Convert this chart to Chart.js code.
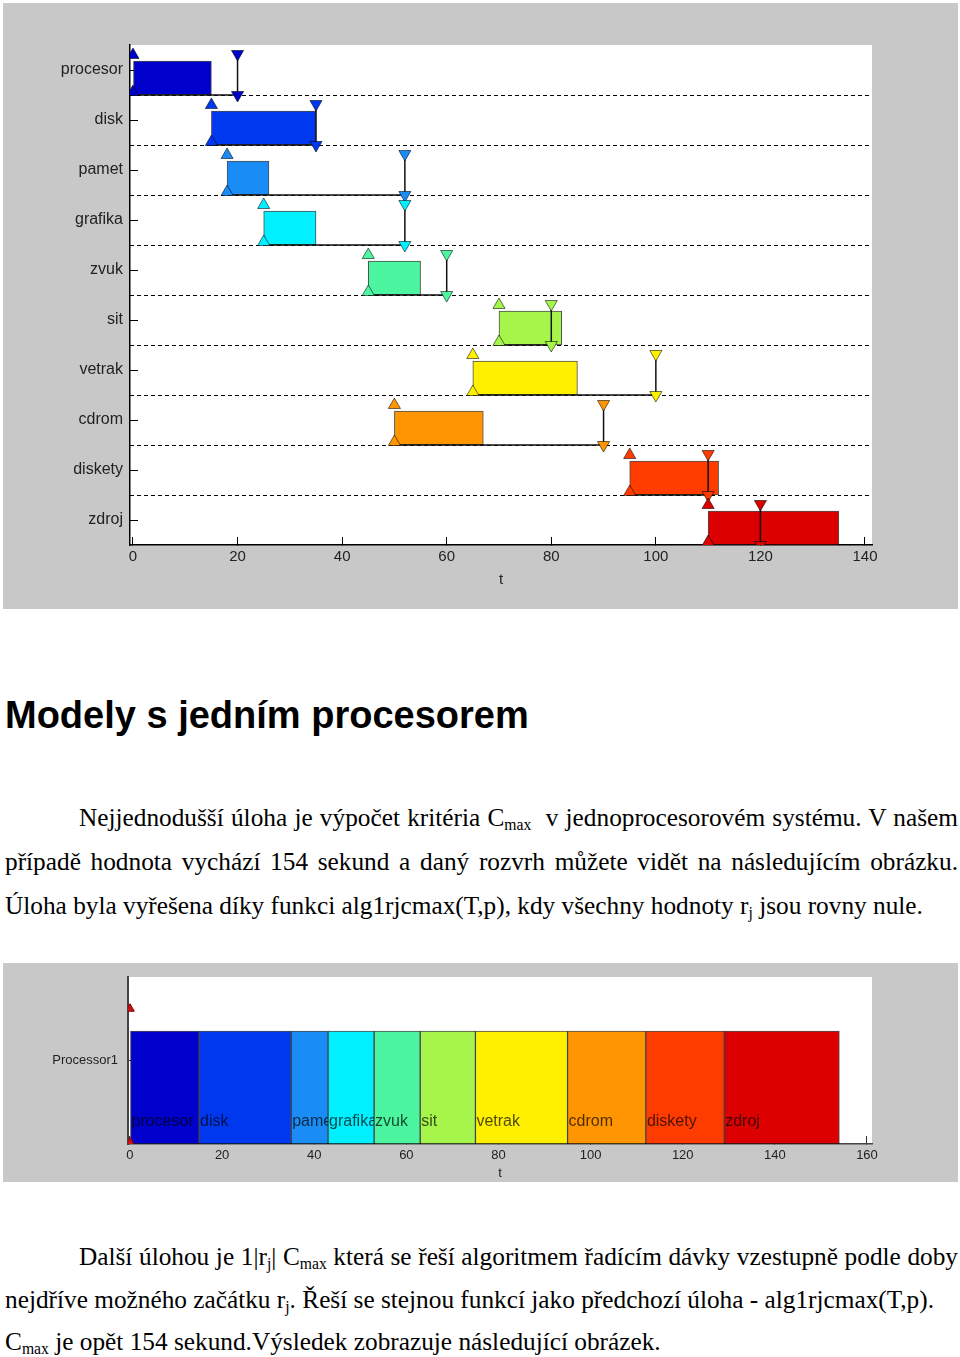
<!DOCTYPE html>
<html lang="cs">
<head>
<meta charset="utf-8">
<title>Modely s jedním procesorem</title>
<script src="https://cdn.jsdelivr.net/npm/chart.js@4.4.1/dist/chart.umd.min.js"></script>
<style>
  body { margin: 0; background: #fff; }
  #page { position: relative; width: 960px; height: 1357px; overflow: hidden; }
  .plot { position: absolute; left: 3px; width: 955px; background: #c8c8c8; }
  #topBox { top: 3px; height: 606px; }
  #bottomBox { top: 963px; height: 219px; }
  h1 { position: absolute; left: 5px; top: 696px; margin: 0; font: bold 38px/38px "Liberation Sans", Arial, sans-serif; color: #000; white-space: nowrap; }
  .ln { position: absolute; left: 5px; width: 953px; height: 44px; font: 25.3px/44px "Liberation Serif", "Times New Roman", serif; color: #000; }
  .just { text-align: justify; text-align-last: justify; }
  .ind { padding-left: 74px; width: 879px; }
  sub { font-size: 62%; vertical-align: -0.25em; line-height: 0; }
</style>
</head>
<body>
<div id="page">
  <div id="topBox" class="plot"><canvas id="top-chart"></canvas></div>

  <h1>Modely s jedním procesorem</h1>

  <div class="ln just ind" style="top:795px">Nejjednodušší úloha je výpočet kritéria C<sub>max</sub> &nbsp;v jednoprocesorovém systému. V našem</div>
  <div class="ln just" style="top:839px">případě hodnota vychází 154 sekund a daný rozvrh můžete vidět na následujícím obrázku.</div>
  <div class="ln" style="top:883px">Úloha byla vyřešena díky funkci alg1rjcmax(T,p), kdy všechny hodnoty r<sub>j</sub>&nbsp;jsou rovny nule.</div>

  <div id="bottomBox" class="plot"><canvas id="bottom-chart"></canvas></div>

  <div class="ln just ind" style="top:1234px">Další úlohou je 1|r<sub>j</sub>| C<sub>max</sub> která se řeší algoritmem řadícím dávky vzestupně podle doby</div>
  <div class="ln" style="top:1277px">nejdříve možného začátku r<sub>j</sub>. Řeší se stejnou funkcí jako předchozí úloha - alg1rjcmax(T,p).</div>
  <div class="ln" style="top:1319px">C<sub>max</sub> je opět 154 sekund.Výsledek zobrazuje následující obrázek.</div>
</div>

<script>
// TASKS (same order in both charts)
const tasks = ['procesor', 'disk', 'pamet', 'grafika', 'zvuk', 'sit', 'vetrak', 'cdrom', 'diskety', 'zdroj'];
const taskColors = ['#0000cc', '#0038f0', '#1a8cf5', '#00f0ff', '#4cf5a0', '#a5f54a', '#fff000', '#ff9500', '#ff3c00', '#dd0000'];
const procTimes = [15, 20, 8, 10, 10, 12, 20, 17, 17, 25];

// FIRST CHART: release times and deadlines
const releaseTimes = [0, 15, 18, 25, 45, 70, 65, 50, 95, 110];
const deadlines = [20, 35, 52, 52, 60, 80, 100, 90, 110, 120];
const topTicks = [0, 20, 40, 60, 80, 100, 120, 140];

// SECOND CHART: schedule on one processor
const machines = ['Processor1'];
const startTimes = [0, 15, 35, 43, 53, 63, 75, 95, 112, 129];
const machineRelease = [0];
const bottomTicks = [0, 20, 40, 60, 80, 100, 120, 140, 160];

const FONT = '"Liberation Sans", Arial, sans-serif';
Chart.defaults.font.family = FONT;

// white plot area on the grey figure
const plotBg = {
    id: 'plotBg',
    beforeDraw(chart){
        const {ctx, chartArea: a} = chart;
        ctx.save();
        ctx.fillStyle = '#fff';
        ctx.fillRect(a.left, a.top, a.width, a.height);
        ctx.restore();
    }
};

// task names written inside the schedule bars
const barLabels = {
    id: 'barLabels',
    afterDatasetsDraw(chart){
        const ctx = chart.ctx;
        const meta = chart.getDatasetMeta(1);
        ctx.save();
        ctx.font = '16px ' + FONT;
        ctx.fillStyle = 'rgba(0,0,0,0.7)';
        ctx.textBaseline = 'middle';
        meta.data.forEach((bar, i) => {
            const p = bar.getProps(['x', 'y', 'base', 'height'], true);
            const left = Math.min(p.x, p.base);
            const right = Math.max(p.x, p.base);
            const top = p.y - p.height / 2;
            const bottom = p.y + p.height / 2;
            ctx.save();
            ctx.beginPath();
            ctx.rect(left, top, right - left, bottom - top);
            ctx.clip();
            ctx.fillText(tasks[i], left + 1, bottom - 22);
            ctx.restore();
        });
        ctx.restore();
    }
};

// TOP CHART
function triangles(xs, offset, rotation){
    return {
        type: 'scatter',
        data: xs.map((x, i) => ({x: x, y: i + offset})),
        pointStyle: 'triangle',
        pointRotation: rotation,
        pointRadius: 7,
        pointHoverRadius: 7,
        pointBackgroundColor: taskColors,
        pointBorderColor: 'rgba(0,0,0,0.55)',
        pointBorderWidth: 1,
        xAxisID: 'x',
        yAxisID: 'y'
    };
}

const deadlineLines = tasks.map((t, i) => ({
    type: 'scatter',
    showLine: true,
    data: [
        {x: releaseTimes[i], y: i + 1},
        {x: deadlines[i], y: i + 1},
        {x: deadlines[i], y: i + 0.18}
    ],
    borderColor: '#111',
    borderWidth: 1.5,
    pointRadius: 0,
    pointHoverRadius: 0,
    xAxisID: 'x',
    yAxisID: 'y'
}));

new Chart(document.getElementById('top-chart'), {
    type: 'scatter',
    data: {
        datasets: [
            triangles(releaseTimes, 0.2, 0),
            triangles(releaseTimes, 0.94, 0),
            triangles(deadlines, 0.18, 180),
            triangles(deadlines, 1.0, 180),
            ...deadlineLines,
            {
                type: 'bar',
                indexAxis: 'y',
                data: tasks.map((t, i) => ({x: [releaseTimes[i], releaseTimes[i] + procTimes[i]], y: i + 0.66})),
                backgroundColor: taskColors,
                borderColor: 'rgba(0,0,0,0.7)',
                borderWidth: 1,
                borderSkipped: false,
                barThickness: 34,
                xAxisID: 'x',
                yAxisID: 'y'
            }
        ]
    },
    options: {
        responsive: true,
        maintainAspectRatio: false,
        animation: false,
        layout: { padding: {top: 42, right: 86, bottom: 0, left: 0} },
        plugins: { legend: {display: false}, tooltip: {enabled: false} },
        scales: {
            x: {
                type: 'linear', position: 'bottom', min: -0.57, max: 141.34, offset: false,
                afterBuildTicks: s => { s.ticks = topTicks.map(v => ({value: v})); },
                afterFit: s => { s.height = 64; },
                grid: {drawOnChartArea: false, offset: false, tickLength: -8, tickColor: '#000'},
                border: {color: '#000', width: 1.5},
                ticks: {padding: 11, color: '#222', font: {size: 15}, maxRotation: 0, autoSkip: false},
                title: {display: true, text: 't', color: '#222', font: {size: 15}, padding: {top: 0, bottom: 20}}
            },
            y: {
                type: 'linear', position: 'left', min: 0, max: 10, reverse: true, offset: false,
                afterBuildTicks: s => { s.ticks = tasks.map((t, i) => ({value: i + 0.5})); },
                afterFit: s => { s.width = 127; s.paddingTop = 0; s.paddingBottom = 0; },
                grid: {drawOnChartArea: false, offset: false, tickLength: -8, tickColor: '#000'},
                border: {color: '#000', width: 1.5},
                ticks: {padding: 15, color: '#222', font: {size: 16}, autoSkip: false, callback: (v, i) => tasks[i]}
            },
            yg: {
                type: 'linear', position: 'right', min: 0, max: 10, reverse: true, offset: false,
                afterBuildTicks: s => { s.ticks = tasks.slice(1).map((t, i) => ({value: i + 1})); },
                afterFit: s => { s.width = 0; },
                grid: {color: '#000', lineWidth: 1, drawTicks: false, offset: false},
                border: {display: false, dash: [4, 3]},
                ticks: {display: false}
            }
        }
    },
    plugins: [plotBg]
});

// BOTTOM CHART
const BAR_TOP = 0.677;

new Chart(document.getElementById('bottom-chart'), {
    type: 'scatter',
    data: {
        datasets: [
            {
                type: 'scatter',
                data: machineRelease.flatMap(x => [{x: x, y: 0.81}, {x: x, y: 0.01}]),
                pointStyle: 'triangle',
                pointRadius: 5,
                pointHoverRadius: 5,
                pointBackgroundColor: '#cc1111',
                pointBorderColor: '#880000',
                pointBorderWidth: 1,
                xAxisID: 'x',
                yAxisID: 'y'
            },
            {
                type: 'bar',
                indexAxis: 'y',
                data: tasks.map((t, i) => ({x: [startTimes[i], startTimes[i] + procTimes[i]], y: BAR_TOP / 2})),
                backgroundColor: taskColors,
                borderColor: 'rgba(0,0,0,0.7)',
                borderWidth: 1,
                borderSkipped: false,
                barThickness: 113,
                xAxisID: 'x',
                yAxisID: 'y'
            }
        ]
    },
    options: {
        responsive: true,
        maintainAspectRatio: false,
        animation: false,
        layout: { padding: {top: 14, right: 86, bottom: 0, left: 0} },
        plugins: { legend: {display: false}, tooltip: {enabled: false} },
        scales: {
            x: {
                type: 'linear', position: 'bottom', min: -0.43, max: 161.09, offset: false,
                afterBuildTicks: s => { s.ticks = bottomTicks.map(v => ({value: v})); },
                afterFit: s => { s.height = 38; },
                grid: {drawOnChartArea: false, offset: false, tickLength: -8, tickColor: '#333'},
                border: {color: '#444', width: 1.5},
                ticks: {padding: 12, color: '#222', font: {size: 13}, maxRotation: 0, autoSkip: false},
                title: {display: true, text: 't', color: '#222', font: {size: 13}, padding: {top: 0, bottom: 1}}
            },
            y: {
                type: 'linear', position: 'left', min: 0, max: 1, offset: false,
                afterBuildTicks: s => { s.ticks = machines.map(() => ({value: 0.5})); },
                afterFit: s => { s.width = 125; s.paddingTop = 0; s.paddingBottom = 0; },
                grid: {drawOnChartArea: false, offset: false, tickLength: -8, tickColor: '#333'},
                border: {color: '#444', width: 2},
                ticks: {padding: 18, color: '#222', font: {size: 13}, autoSkip: false, callback: (v, i) => machines[i]}
            }
        }
    },
    plugins: [plotBg, barLabels]
});
</script>
</body>
</html>
